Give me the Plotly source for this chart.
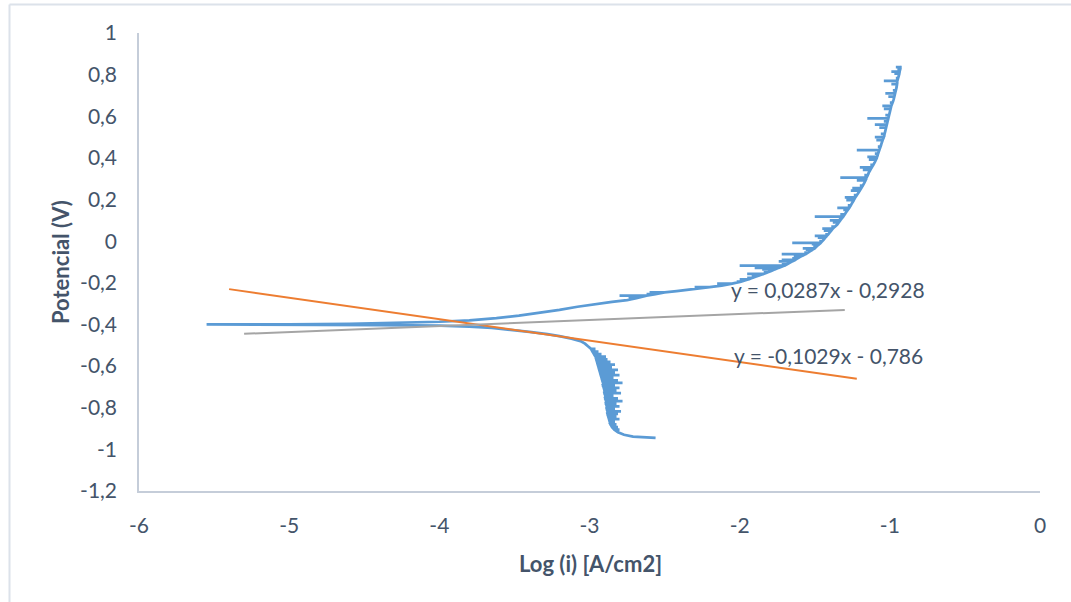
import plotly.graph_objects as go

# ---------------- data ----------------
# Cathodic branch, scan order (from -0.95 V up to Ecorr).
# For each potential E: base log(i) and the tip of the noise spike at that potential.
cath_E = [-0.945, -0.943, -0.939, -0.930, -0.918, -0.905, -0.893, -0.880, -0.868, -0.855,
          -0.843, -0.830, -0.818, -0.805, -0.793, -0.780, -0.768, -0.755, -0.742, -0.730,
          -0.718, -0.705, -0.693, -0.680, -0.668, -0.655, -0.643, -0.630, -0.618, -0.605,
          -0.593, -0.580, -0.568, -0.555, -0.543, -0.530, -0.517, -0.505, -0.492, -0.480,
          -0.468, -0.456, -0.446, -0.436, -0.425, -0.416, -0.410, -0.406, -0.403, -0.401,
          -0.400]
cath_logi = [-2.56, -2.64, -2.71, -2.77, -2.81, -2.835, -2.85, -2.86, -2.865, -2.87,
             -2.875, -2.88, -2.88, -2.885, -2.885, -2.89, -2.89, -2.895, -2.895, -2.90,
             -2.90, -2.905, -2.91, -2.91, -2.915, -2.92, -2.925, -2.93, -2.935, -2.94,
             -2.945, -2.95, -2.955, -2.96, -2.97, -2.98, -2.99, -3.01, -3.03, -3.06,
             -3.12, -3.20, -3.28, -3.40, -3.52, -3.65, -3.80, -4.00, -4.40, -5.00,
             -5.55]
cath_spike = [-2.56, -2.64, -2.71, -2.77, -2.81, -2.80, -2.81, -2.82, -2.83, -2.80,
              -2.82, -2.81, -2.79, -2.83, -2.80, -2.82, -2.78, -2.81, -2.84, -2.79,
              -2.82, -2.80, -2.83, -2.78, -2.81, -2.84, -2.80, -2.83, -2.81, -2.85,
              -2.83, -2.86, -2.88, -2.89, -2.92, -2.94, -2.96, -3.01, -3.03, -3.06,
              -3.12, -3.20, -3.28, -3.40, -3.52, -3.65, -3.80, -4.00, -4.40, -5.00,
              -5.55]

# Anodic branch, scan order (from Ecorr up to +0.84 V)
anod_E = [-0.400, -0.399, -0.397, -0.393, -0.387, -0.380, -0.370, -0.358, -0.345, -0.330,
          -0.315, -0.302, -0.292, -0.283, -0.272, -0.262, -0.254, -0.246, -0.240, -0.234,
          -0.228, -0.221, -0.213, -0.204, -0.194, -0.183, -0.176, -0.170, -0.163, -0.157,
          -0.150, -0.143, -0.135, -0.128, -0.117, -0.111, -0.105, -0.097, -0.090, -0.083,
          -0.076, -0.069, -0.062, -0.055, -0.048, -0.041, -0.034, -0.027, -0.020, -0.014,
          -0.008, 0.000, 0.008, 0.017, 0.025, 0.033, 0.042, 0.051, 0.060, 0.070,
          0.080, 0.090, 0.100, 0.109, 0.118, 0.129, 0.140, 0.150, 0.160, 0.172,
          0.185, 0.197, 0.210, 0.221, 0.232, 0.243, 0.255, 0.267, 0.280, 0.292,
          0.305, 0.317, 0.330, 0.342, 0.355, 0.367, 0.380, 0.392, 0.405, 0.421,
          0.438, 0.454, 0.470, 0.485, 0.500, 0.515, 0.530, 0.545, 0.560, 0.575,
          0.590, 0.605, 0.620, 0.635, 0.650, 0.665, 0.680, 0.695, 0.710, 0.725,
          0.740, 0.755, 0.770, 0.783, 0.795, 0.805, 0.815, 0.823, 0.830, 0.836,
          0.840]
anod_logi = [-5.55, -5.00, -4.60, -4.30, -4.00, -3.80, -3.62, -3.47, -3.33, -3.20,
             -3.08, -2.96, -2.85, -2.75, -2.68, -2.62, -2.56, -2.50, -2.42, -2.35,
             -2.28, -2.20, -2.12, -2.05, -1.99, -1.94, -1.915, -1.89, -1.865, -1.84,
             -1.815, -1.79, -1.765, -1.74, -1.70, -1.685, -1.67, -1.65, -1.63, -1.615,
             -1.60, -1.58, -1.56, -1.545, -1.53, -1.515, -1.50, -1.49, -1.48, -1.47,
             -1.46, -1.45, -1.44, -1.43, -1.42, -1.41, -1.40, -1.39, -1.38, -1.365,
             -1.35, -1.34, -1.33, -1.32, -1.31, -1.30, -1.29, -1.28, -1.27, -1.26,
             -1.25, -1.24, -1.23, -1.22, -1.21, -1.20, -1.19, -1.18, -1.17, -1.162,
             -1.155, -1.147, -1.14, -1.13, -1.12, -1.11, -1.10, -1.092, -1.085, -1.078,
             -1.07, -1.062, -1.055, -1.048, -1.04, -1.035, -1.03, -1.025, -1.02, -1.015,
             -1.01, -1.005, -1.00, -0.995, -0.99, -0.982, -0.975, -0.97, -0.965, -0.96,
             -0.955, -0.952, -0.95, -0.945, -0.94, -0.937, -0.935, -0.932, -0.93, -0.93,
             -0.935]
anod_spike = [-5.55, -5.00, -4.60, -4.30, -4.00, -3.80, -3.62, -3.47, -3.33, -3.20,
              -3.08, -2.96, -2.85, -2.75, -2.74, -2.80, -2.62, -2.60, -2.42, -2.35,
              -2.28, -2.30, -2.12, -2.15, -2.02, -2.00, -1.95, -1.89, -1.92, -1.95,
              -1.84, -1.79, -1.85, -1.90, -2.00, -1.72, -1.67, -1.74, -1.72, -1.65,
              -1.60, -1.64, -1.72, -1.57, -1.53, -1.56, -1.58, -1.51, -1.48, -1.52,
              -1.65, -1.47, -1.44, -1.48, -1.50, -1.43, -1.40, -1.44, -1.45, -1.39,
              -1.35, -1.38, -1.40, -1.34, -1.50, -1.33, -1.29, -1.31, -1.35, -1.28,
              -1.25, -1.29, -1.30, -1.24, -1.21, -1.26, -1.25, -1.20, -1.17, -1.22,
              -1.33, -1.17, -1.14, -1.18, -1.20, -1.13, -1.10, -1.14, -1.15, -1.10,
              -1.22, -1.08, -1.055, -1.09, -1.10, -1.06, -1.03, -1.07, -1.10, -1.04,
              -1.15, -1.03, -1.00, -1.04, -1.05, -1.00, -0.975, -1.01, -1.03, -0.98,
              -0.955, -0.99, -1.04, -0.96, -0.94, -0.97, -0.99, -0.95, -0.93, -0.96,
              -0.935]

# linear trendlines (Tafel fits): slope, intercept and drawn x-extent
orange_slope, orange_icpt = -0.1029, -0.786
orange_x = [-5.40, -1.22]
gray_slope, gray_icpt = 0.0287, -0.2928
gray_x = [-5.30, -1.30]

eq_labels = ["y = 0,0287x - 0,2928", "y = -0,1029x - 0,786"]

x_ticks = [-6, -5, -4, -3, -2, -1, 0]
x_ticktext = ["-6", "-5", "-4", "-3", "-2", "-1", "0"]
y_ticks = [-1.2, -1.0, -0.8, -0.6, -0.4, -0.2, 0, 0.2, 0.4, 0.6, 0.8, 1.0]
y_ticktext = ["-1,2", "-1", "-0,8", "-0,6", "-0,4", "-0,2", "0", "0,2", "0,4", "0,6", "0,8", "1"]

# ---------------- figure ----------------
BLUE = "#5B9BD5"
ORANGE = "#ED7D31"
GRAY = "#A5A5A5"
TXT = "#44546A"
AXIS = "#C5CDD9"
FONT = "Lato"

W, H = 1071, 602
ML, MR, MT, MB = 139, 31, 33, 111
PW, PH = W - ML - MR, H - MT - MB


def px(xp):
    return (xp - ML) / PW


def py(yp):
    return (H - MB - yp) / PH


def spiky(E, base, spike):
    xs, ys = [], []
    for e, b, s in zip(E, base, spike):
        if s != b:
            xs += [b, s, b]
            ys += [e, e, e]
        else:
            xs.append(b)
            ys.append(e)
    return xs, ys


cx, cy = spiky(cath_E, cath_logi, cath_spike)
ax_, ay = spiky(anod_E, anod_logi, anod_spike)

fig = go.Figure()
fig.add_trace(go.Scatter(x=cx + ax_, y=cy + ay, mode="lines",
                         line=dict(color=BLUE, width=2.75), showlegend=False))
fig.add_trace(go.Scatter(x=orange_x, y=[orange_slope * v + orange_icpt for v in orange_x],
                         mode="lines", line=dict(color=ORANGE, width=2), showlegend=False))
fig.add_trace(go.Scatter(x=gray_x, y=[gray_slope * v + gray_icpt for v in gray_x],
                         mode="lines", line=dict(color=GRAY, width=2), showlegend=False))

fig.add_annotation(x=-2.07, y=-0.234, xref="x", yref="y", text=eq_labels[0],
                   showarrow=False, xanchor="left", yanchor="middle",
                   font=dict(family=FONT, size=21, color=TXT))
fig.add_annotation(x=-2.05, y=-0.551, xref="x", yref="y", text=eq_labels[1],
                   showarrow=False, xanchor="left", yanchor="middle",
                   font=dict(family=FONT, size=21, color=TXT))

# axis titles
fig.add_annotation(x=px(60), y=0.5, xref="paper", yref="paper", text="<b>Potencial (V)</b>",
                   textangle=-90, showarrow=False, xanchor="center", yanchor="middle",
                   font=dict(family=FONT, size=22, color=TXT))
fig.add_annotation(x=px(590), y=py(563), xref="paper", yref="paper", text="<b>Log (i) [A/cm2]</b>",
                   showarrow=False, xanchor="center", yanchor="middle",
                   font=dict(family=FONT, size=22, color=TXT))

# chart-area border (top and left visible)
fig.add_shape(type="line", xref="paper", yref="paper", x0=px(9.5), x1=px(W), y0=py(4.5), y1=py(4.5),
              line=dict(color="#DCE2EA", width=2))
fig.add_shape(type="line", xref="paper", yref="paper", x0=px(9.5), x1=px(9.5), y0=py(4.5), y1=py(H),
              line=dict(color="#DCE2EA", width=2))

fig.update_xaxes(range=[-6, 0], tickvals=x_ticks, ticktext=x_ticktext, showgrid=False,
                 zeroline=False, showline=True, linecolor=AXIS, linewidth=1.5, ticks="",
                 ticklabelstandoff=15, tickfont=dict(family=FONT, size=21, color=TXT))
fig.update_yaxes(range=[-1.2, 1], tickvals=y_ticks, ticktext=y_ticktext, showgrid=False,
                 zeroline=False, showline=True, linecolor=AXIS, linewidth=1.5, ticks="",
                 ticklabelstandoff=16, tickfont=dict(family=FONT, size=21, color=TXT))

fig.update_layout(width=W, height=H, margin=dict(l=ML, r=MR, t=MT, b=MB, autoexpand=False),
                  plot_bgcolor="white", paper_bgcolor="white", showlegend=False)

fig.write_html("out.html")
